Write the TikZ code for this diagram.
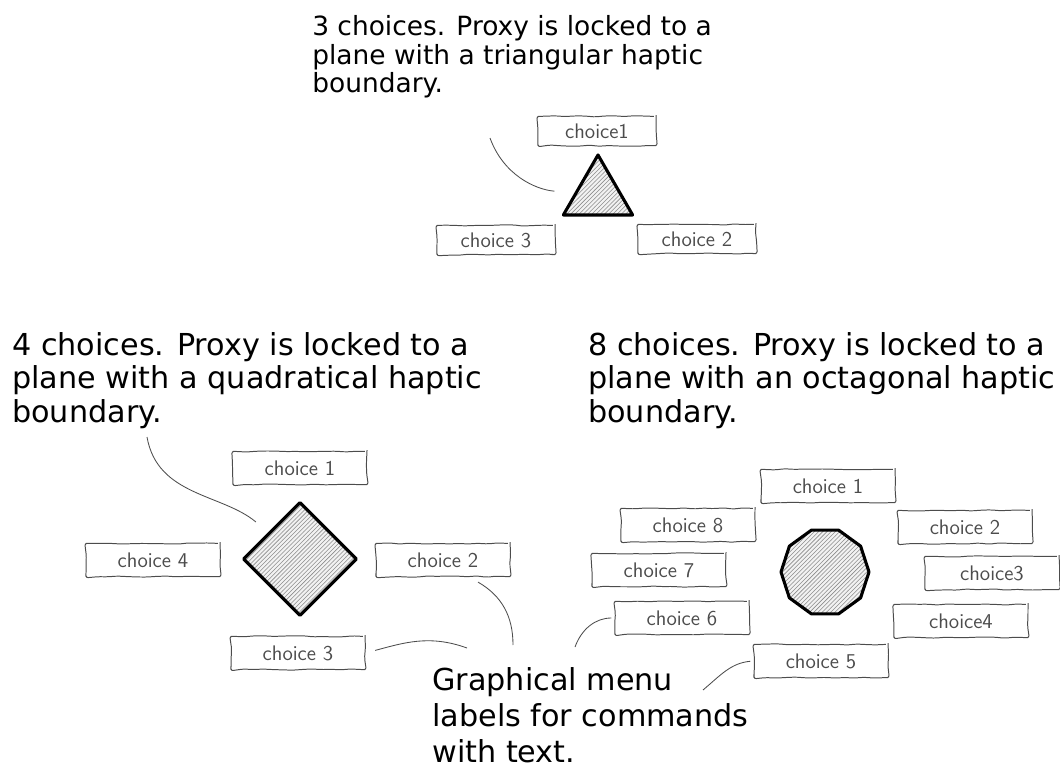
\documentclass[tikz,border=0pt]{standalone}
\usepackage{fontspec}
\setmainfont{DejaVu Sans}
\usetikzlibrary{shapes.geometric,patterns,decorations.pathmorphing}

\begin{document}
\pgfmathsetseed{17}
\begin{tikzpicture}[x=0.025cm, y=-0.025cm,
  choice/.style={draw=black!70, line width=0.7pt, decorate,
    decoration={random steps, segment length=7pt, amplitude=0.45pt},
    rounded corners=1.5pt, minimum width=3.35cm, minimum height=0.83cm,
    inner sep=0pt, text=black!70, font=\sffamily\fontsize{15}{18}\selectfont},
  small/.style={minimum width=2.95cm, minimum height=0.73cm},
  proxy/.style={draw, line width=2.2pt, line join=round, inner sep=0pt,
    preaction={fill=black!5}, pattern=north east lines, pattern color=black!45},
  caption/.style={align=left, anchor=base west, inner sep=0pt,
    font=\fontsize{21.5}{23.8}\selectfont},
  leader/.style={draw=black!70, line width=0.6pt}]
\useasboundingbox (0,0) rectangle (1060,768);

\node[caption, font=\fontsize{18.8}{20.6}\selectfont] (cap3) at (312,93)
  {3 choices. Proxy is locked to a\\plane with a triangular haptic\\boundary.};
\node[caption] (cap4) at (12,422)
  {4 choices. Proxy is locked to a\\plane with a quadratical haptic\\boundary.};
\node[caption] (cap8) at (588,422)
  {8 choices. Proxy is locked to a\\plane with an octagonal haptic\\boundary.};
\node[caption, font=\fontsize{21.5}{25.6}\selectfont] (menu) at (432,762)
  {Graphical menu\\labels for commands\\with text.};

\node[proxy, regular polygon, regular polygon sides=3, minimum size=2cm] (tri) at (598,195) {};
\node[choice, small] (t1) at (597,131) {choice1};
\node[choice, small] (t2) at (697,239) {choice 2};
\node[choice, small] (t3) at (496,240) {choice 3};

\node[proxy, diamond, aspect=1, minimum size=2.85cm] (quad) at (300,559) {};
\node[choice] (q1) at (300,468) {choice 1};
\node[choice] (q2) at (443,560) {choice 2};
\node[choice] (q3) at (298,653) {choice 3};
\node[choice] (q4) at (153,560) {choice 4};

\node[proxy, regular polygon, regular polygon sides=10, minimum size=2.2cm] (oct) at (825,572) {};
\node[choice] (o1) at (828,486) {choice 1};
\node[choice] (o2) at (965,527) {choice 2};
\node[choice] (o3) at (992,573) {choice3};
\node[choice] (o4) at (961,621) {choice4};
\node[choice] (o5) at (821,661) {choice 5};
\node[choice] (o6) at (682,618) {choice 6};
\node[choice] (o7) at (659,570) {choice 7};
\node[choice] (o8) at (688,525) {choice 8};

\coordinate (tip3) at (490,138);
\coordinate (tip4) at (147,437);
\coordinate (m1) at (513,645);
\coordinate (m2) at (467,648);
\coordinate (m3) at (575,647);
\coordinate (m4) at (703,690);

\draw[leader, shorten >=0.5cm] (tip3) to[out=-70, in=175] (tri);
\draw[leader, shorten >=0.4cm] (tip4) to[out=-80, in=140] (quad);
\draw[leader] ([shift={(35,5)}]q2.south) to[out=-30, in=90] (m1);
\draw[leader, shorten <=0.25cm] (q3.east) to[out=15, in=160] (m2);
\draw[leader, shorten <=0.08cm] (o6.west) to[out=180, in=70] (m3);
\draw[leader, shorten <=0.08cm] (o5.west) to[out=185, in=40] (m4);
\end{tikzpicture}
\end{document}
